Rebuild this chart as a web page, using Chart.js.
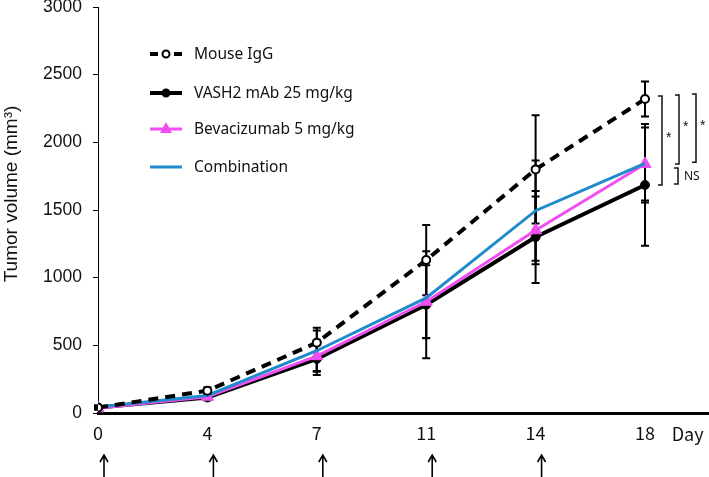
<!doctype html>
<html lang="en">
<head>
<meta charset="utf-8">
<title>Tumor volume</title>
<script src="https://cdn.jsdelivr.net/npm/chart.js"></script>
<style>
  html,body{margin:0;padding:0;background:#fff}
  #wrap{width:709px;height:477px}
</style>
</head>
<body>
<div id="wrap"><canvas id="chart" width="709" height="477"></canvas></div>
<script>
/* ---------- data ------------------------------------------------------ */
const days      = ['0','4','7','11','14','18'];
const doseDays  = ['0','4','7','11','14'];
const iggMean   = [40, 165, 520, 1130, 1800, 2320];
const iggSD     = [15, 25, 110, 260, 400, 130];
const vashMean  = [40, 115, 400, 800, 1300, 1685];
const vashSD    = [10, 20, 120, 395, 340, 450];
const bevMean   = [35, 120, 420, 822, 1350, 1840];
const bevSD     = [10, 20, 115, 270, 250, 270];
const comboMean = [45, 130, 460, 850, 1495, 1845];
const comboSD   = [10, 20, 150, 295, 370, 290];
const DAY_POS   = 5.39;   // where the "Day" caption sits on the x axis

const pts = arr => arr.map((v,i)=>({x:i,y:v}));
const tickFont = '"Noto Sans CJK JP", "Noto Sans", sans-serif';

/* ---------- plugins --------------------------------------------------- */
const errorBars={
  id:'errorBars',
  beforeDatasetsDraw(chart){
    const {ctx,scales:{x,y}}=chart;
    ctx.save();
    ctx.strokeStyle='#000'; ctx.lineWidth=2;
    chart.data.datasets.forEach(ds=>{
      ds.sd.forEach((s,i)=>{
        const m=ds.data[i].y, px=x.getPixelForValue(i);
        const t=y.getPixelForValue(m+s), b=y.getPixelForValue(m-s);
        ctx.beginPath();
        ctx.moveTo(px,t); ctx.lineTo(px,b);
        ctx.moveTo(px-4,t); ctx.lineTo(px+4,t);
        ctx.moveTo(px-4,b); ctx.lineTo(px+4,b);
        ctx.stroke();
      });
    });
    ctx.restore();
  }
};

const extras={
  id:'extras',
  afterDraw(chart){
    const {ctx,scales:{x,y}}=chart;
    ctx.save();
    /* y title */
    ctx.translate(17,194); ctx.rotate(-Math.PI/2);
    ctx.font='19px "Liberation Sans", Arial, sans-serif';
    ctx.fillStyle='#111'; ctx.textAlign='center'; ctx.textBaseline='alphabetic';
    ctx.fillText('Tumor volume (mm\u00B3)',0,0);
    ctx.restore();

    /* "Day" caption at the end of the x axis */
    ctx.save();
    ctx.font='18px '+tickFont; ctx.fillStyle='#111';
    ctx.textAlign='center'; ctx.textBaseline='middle';
    ctx.fillText('Day',x.getPixelForValue(DAY_POS),434);
    ctx.restore();

    /* legend */
    ctx.save();
    const rows=[54,93,129,167];
    chart.data.datasets.slice().sort((a,b)=>a.legendRow-b.legendRow).forEach((ds,k)=>{
      const yy=rows[k];
      ctx.strokeStyle=ds.borderColor; ctx.lineWidth=ds.borderWidth;
      ctx.setLineDash(ds.borderDash&&ds.borderDash.length?[8,4]:[]);
      ctx.beginPath(); ctx.moveTo(150,yy); ctx.lineTo(182,yy); ctx.stroke();
      ctx.setLineDash([]);
      if(ds.pointRadius>0){
        ctx.fillStyle=ds.pointBackgroundColor; ctx.strokeStyle=ds.pointBorderColor; ctx.lineWidth=2;
        if(ds.pointStyle==='triangle'){
          ctx.beginPath(); ctx.moveTo(166,yy-7); ctx.lineTo(172,yy+4); ctx.lineTo(160,yy+4); ctx.closePath(); ctx.fill();
        }else{
          ctx.beginPath(); ctx.arc(166,yy,3.5,0,Math.PI*2); ctx.fill(); ctx.stroke();
        }
      }
      ctx.fillStyle='#111'; ctx.font='15.5px "Noto Sans", sans-serif';
      ctx.textAlign='left'; ctx.textBaseline='middle';
      ctx.fillText(ds.label,194,yy+1);
    });
    ctx.restore();

    /* significance brackets at day 18 */
    ctx.save();
    ctx.strokeStyle='#111'; ctx.lineWidth=1.5; ctx.fillStyle='#111';
    const last=days.length-1, px=x.getPixelForValue(last);
    const br=(off,yt,yb,txt,font,dx)=>{
      const x0=px+off;
      ctx.beginPath();
      ctx.moveTo(x0-4,yt); ctx.lineTo(x0,yt); ctx.lineTo(x0,yb); ctx.lineTo(x0-4,yb);
      ctx.stroke();
      ctx.font=font; ctx.textAlign='left'; ctx.textBaseline='middle';
      ctx.fillText(txt,x0+dx,(yt+yb)/2+ (txt==='*'?-2:1));
    };
    const yI=y.getPixelForValue(iggMean[last]), yV=y.getPixelForValue(vashMean[last]);
    const yB=y.getPixelForValue(bevMean[last]), yC=y.getPixelForValue(comboMean[last]);
    br(17,yI-3,yV,'*','14px "Liberation Sans", sans-serif',4);
    br(34,yI-4,yB,'*','14px "Liberation Sans", sans-serif',4);
    br(51,yI-5,yC-1,'*','14px "Liberation Sans", sans-serif',4);
    br(33,yB+4,yV-1,'NS','12px "Noto Sans", sans-serif',6);
    ctx.restore();

    /* dosing arrows under the axis */
    ctx.save();
    ctx.strokeStyle='#000'; ctx.lineWidth=1.6;
    doseDays.forEach(d=>{
      const ax=x.getPixelForValue(days.indexOf(d))+6;
      ctx.beginPath();
      ctx.moveTo(ax,456); ctx.lineTo(ax,477);
      ctx.moveTo(ax-4,462); ctx.lineTo(ax,455); ctx.lineTo(ax+4,462);
      ctx.stroke();
    });
    ctx.restore();
  }
};

/* ---------- chart ----------------------------------------------------- */
new Chart(document.getElementById('chart'),{
  type:'line',
  data:{datasets:[
    {label:'Mouse IgG', data:pts(iggMean), sd:iggSD, legendRow:0, order:0,
     borderColor:'#000', borderWidth:4, borderDash:[10,7],
     pointStyle:'circle', pointRadius:4, pointBackgroundColor:'#fff', pointBorderColor:'#000', pointBorderWidth:2},
    {label:'Combination', data:pts(comboMean), sd:comboSD, legendRow:3, order:1,
     borderColor:'#1f8bcb', borderWidth:3, pointRadius:0,
     pointBackgroundColor:'#1f8bcb', pointBorderColor:'#1f8bcb'},
    {label:'Bevacizumab 5 mg/kg', data:pts(bevMean), sd:bevSD, legendRow:2, order:2,
     borderColor:'#f04ef0', borderWidth:3,
     pointStyle:'triangle', pointRadius:7, pointBackgroundColor:'#f04ef0', pointBorderColor:'#f04ef0', pointBorderWidth:1},
    {label:'VASH2 mAb 25 mg/kg', data:pts(vashMean), sd:vashSD, legendRow:1, order:3,
     borderColor:'#000', borderWidth:4,
     pointStyle:'circle', pointRadius:4.5, pointBackgroundColor:'#000', pointBorderColor:'#000', pointBorderWidth:1}
  ]},
  options:{
    responsive:false, animation:false,
    layout:{autoPadding:false, padding:{top:7,left:0,right:0,bottom:0}},
    plugins:{legend:{display:false},tooltip:{enabled:false}},
    elements:{line:{tension:0}},
    scales:{
      x:{type:'linear', min:0, max:5.585,
         afterBuildTicks:s=>{s.ticks=days.map((d,i)=>({value:i}));},
         afterFit:s=>{s.height=64; s.paddingLeft=0; s.paddingRight=0;},
         grid:{display:false,drawTicks:false},
         border:{color:'#000',width:3},
         ticks:{autoSkip:false,maxRotation:0,padding:9,color:'#111',
                font:{family:tickFont,size:18},
                callback:v=>days[v]}},
      y:{min:0, max:3000,
         afterFit:s=>{s.width=98; s.paddingTop=0; s.paddingBottom=0;},
         grid:{drawOnChartArea:false,drawTicks:true,tickLength:5,color:'#000'},
         border:{color:'#000',width:1},
         ticks:{stepSize:500,padding:11,color:'#111',
                font:{family:'"Liberation Sans", Arial, sans-serif',size:17.5},
                callback:v=>String(v)}}
    }
  },
  plugins:[errorBars,extras]
});
</script>
</body>
</html>
